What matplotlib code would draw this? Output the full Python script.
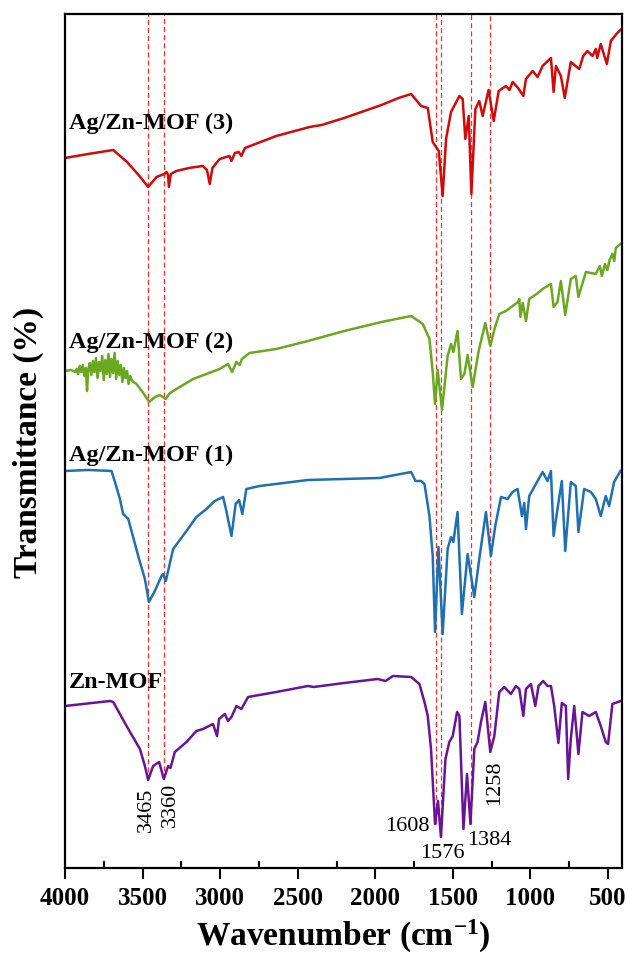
import matplotlib
matplotlib.use("Agg")
import matplotlib.pyplot as plt

plt.rcParams['font.family'] = ['Liberation Serif', 'DejaVu Serif']
plt.rcParams['mathtext.fontset'] = 'custom'
plt.rcParams['mathtext.rm'] = 'Liberation Serif:bold'
plt.rcParams['mathtext.it'] = 'Liberation Serif:bold'
plt.rcParams['mathtext.bf'] = 'Liberation Serif:bold'

# FTIR spectra, offset transmittance (arbitrary units)
red_wn = [4000, 3850, 3689, 3600, 3520, 3464, 3410, 3360, 3345, 3336, 3330, 3318, 3282,
          3200, 3112, 3085, 3067, 3050, 3003, 2940, 2927, 2905, 2880, 2863, 2840, 2638,
          2423, 2346, 2200, 1960, 1850, 1769, 1705, 1662, 1630, 1591, 1566, 1544, 1512,
          1458, 1437, 1420, 1398, 1381, 1355, 1330, 1308, 1270, 1237, 1205, 1158, 1135,
          1115, 1080, 1046, 1029, 986, 954, 922, 868, 851, 836, 804, 779, 740, 686, 660,
          633, 600, 579, 570, 547, 508, 482, 446, 420]
red_t = [710, 714, 718, 706, 692, 681, 691, 694, 696, 693, 681, 694, 697,
         700, 702, 698, 684, 700, 709, 712, 707, 715, 716, 712, 720, 732,
         741, 743, 750, 763, 770, 774, 762, 760, 726, 717, 672, 729, 756,
         772, 769, 729, 752, 674, 759, 767, 752, 778, 747, 777, 782, 778,
         786, 780, 772, 789, 797, 791, 802, 810, 776, 802, 792, 770, 806, 799, 812,
         817, 812, 819, 810, 824, 804, 827, 834, 838]

green_wn = [4000, 3960, 3935, 3925, 3915, 3905, 3895, 3885, 3875, 3865, 3858, 3850, 3840,
            3830, 3820, 3810, 3800, 3790, 3780, 3770, 3760, 3750, 3740, 3730, 3720,
            3710, 3700, 3690, 3680, 3670, 3660, 3650, 3640, 3630, 3620, 3610, 3600,
            3590, 3580, 3570, 3560, 3539, 3500, 3457, 3420, 3389, 3350, 3330, 3303,
            3174, 3003, 2949, 2923, 2895, 2874, 2860, 2810, 2638, 2434, 2200, 1960,
            1769, 1694, 1651, 1630, 1615, 1598, 1570, 1534, 1512, 1497, 1470, 1448,
            1426, 1405, 1373, 1334, 1291, 1259, 1230, 1201, 1158, 1115, 1080, 1072,
            1065, 1050, 1029, 1008, 960, 922, 868, 851, 826, 804, 776, 740, 708, 691,
            643, 579, 553, 540, 520, 504, 490, 472, 460, 450, 420]
green_t = [497, 498, 496, 499, 494, 502, 496, 503, 492, 500, 477, 498, 505,
           493, 507, 496, 510, 490, 506, 497, 512, 488, 508, 494, 514,
           491, 509, 495, 515, 489, 507, 493, 503, 486, 500, 490, 497,
           484, 492, 488, 486, 484, 476, 466, 471, 473, 469, 474, 477,
           489, 499, 504, 496, 506, 503, 509, 515, 519, 527, 537, 546,
           552, 544, 529, 496, 464, 498, 458, 512, 524, 516, 537, 489,
           494, 513, 481, 517, 545, 522, 540, 554, 557, 562, 566, 569,
           551, 565, 547, 569, 574, 579, 584, 561, 566, 587, 553, 589, 592, 571,
           596, 594, 602, 592, 604, 598, 608, 614, 607, 620, 624]

blue_wn = [4000, 3850, 3700, 3678, 3646, 3625, 3592, 3528, 3485, 3459, 3421, 3378,
           3367, 3350, 3303, 3217, 3153, 3088, 3035, 2981, 2960, 2927, 2900, 2878,
           2857, 2831, 2745, 2434, 2200, 1973, 1769, 1741, 1705, 1683, 1651, 1630,
           1615, 1593, 1566, 1534, 1512, 1497, 1470, 1442, 1405, 1362, 1330, 1287,
           1255, 1227, 1190, 1148, 1115, 1083, 1055, 1040, 1029, 1008, 965, 922,
           890, 868, 851, 826, 798, 776, 740, 708, 691, 654, 611, 579, 547, 515,
           493, 461, 420]
blue_t = [397, 398, 397, 386, 369, 354, 349, 312, 289, 266, 277, 292,
          294, 287, 319, 337, 351, 359, 367, 371, 357, 332, 364, 368,
          354, 379, 382, 388, 389, 390, 396, 387, 387, 384, 352, 312,
          236, 321, 234, 319, 331, 326, 356, 254, 314, 271, 309, 356,
          312, 342, 371, 369, 376, 379, 352, 365, 339, 372, 384, 396,
          387, 397, 332, 359, 387, 317, 386, 382, 336, 379, 376, 369, 352, 372,
          362, 386, 397]

purple_wn = [4000, 3710, 3689, 3603, 3517, 3485, 3464, 3432, 3393, 3363, 3335, 3320,
             3292, 3217, 3153, 3110, 3046, 3020, 3007, 2970, 2949, 2927, 2895, 2863,
             2820, 2638, 2434, 2398, 2200, 1986, 1934, 1887, 1769, 1716, 1683, 1662,
             1641, 1615, 1596, 1577, 1548, 1523, 1501, 1473, 1458, 1432, 1409, 1387,
             1362, 1341, 1319, 1291, 1259, 1233, 1201, 1169, 1126, 1094, 1072, 1046,
             1029, 997, 969, 948, 918, 890, 868, 847, 820, 798, 772, 757, 740, 718,
             691, 665, 622, 579, 547, 515, 500, 472, 418]
purple_t = [162, 167, 166, 142, 119, 102, 88, 102, 106, 89, 102, 100,
            116, 126, 137, 139, 144, 132, 149, 154, 147, 151, 162, 159,
            171, 176, 182, 181, 185, 189, 187, 192, 191, 184, 166, 152,
            119, 44, 67, 31, 109, 126, 132, 156, 152, 39, 94, 44,
            119, 126, 146, 166, 116, 132, 176, 181, 174, 182, 179, 152,
            179, 184, 162, 182, 187, 182, 182, 162, 125, 165, 162, 89, 129, 162,
            114, 156, 152, 156, 142, 126, 124, 164, 167]

spectra = [
    ('Ag/Zn-MOF (3)', red_wn, red_t, '#d10a0a', 746),
    ('Ag/Zn-MOF (2)', green_wn, green_t, '#6aa820', 527),
    ('Ag/Zn-MOF (1)', blue_wn, blue_t, '#1f70b0', 414),
    ('Zn-MOF', purple_wn, purple_t, '#6a1396', 186),
]

# marked bands and how far down each guide line goes
peak_wn = [3465, 3360, 1608, 1576, 1384, 1258]
peak_end = [88, 89, 44, 31, 44, 116]
top_val = 854

fig = plt.figure(figsize=(6.29, 9.54), dpi=100)
ax = fig.add_axes([0.1033, 0.0891, 0.8856, 0.8952])

ax.vlines(peak_wn, peak_end, top_val, colors='#ff2a2a', linestyles=(0, (4, 2.5)), lw=0.9)

for name, wn, t, col, ly in spectra:
    ax.plot(wn, t, color=col, lw=1.8, solid_joinstyle='round')
    ax.text(3975, ly, name, fontsize=17.5, fontweight='bold', va='center', ha='left')

# peak labels
ax.text(3475, 59, '3465', rotation=90, fontsize=16, ha='center', va='center')
ax.text(3322, 64, '3360', rotation=90, fontsize=16, ha='center', va='center')
ax.text(1233, 86, '1258', rotation=90, fontsize=16, ha='center', va='center')
ax.text(1650, 42, '1608', fontsize=16, ha='right', va='center')
ax.text(1571, 15, '1576', fontsize=16, ha='center', va='center')
ax.text(1411, 28, '1384', fontsize=16, ha='left', va='center')

ax.set_xlim(4000, 410)
ax.set_ylim(0, top_val)
ax.set_yticks([])
ax.set_xticks([4000, 3500, 3000, 2500, 2000, 1500, 1000, 500])
ax.set_xticks([3750, 3250, 2750, 2250, 1750, 1250, 750], minor=True)
ax.tick_params(axis='x', which='major', direction='out', length=8, width=1.5,
               labelsize=18, pad=5)
ax.tick_params(axis='x', which='minor', direction='in', length=5, width=1.5)
for lab in ax.get_xticklabels():
    lab.set_fontweight('bold')
for sp in ax.spines.values():
    sp.set_linewidth(1.6)

ax.set_xlabel('Wavenumber (cm$^{-1}$)', fontsize=24, fontweight='bold', labelpad=6)
ax.set_ylabel('Transmittance (%)', fontsize=24, fontweight='bold', labelpad=15)

fig.savefig('out.png', dpi=100)
